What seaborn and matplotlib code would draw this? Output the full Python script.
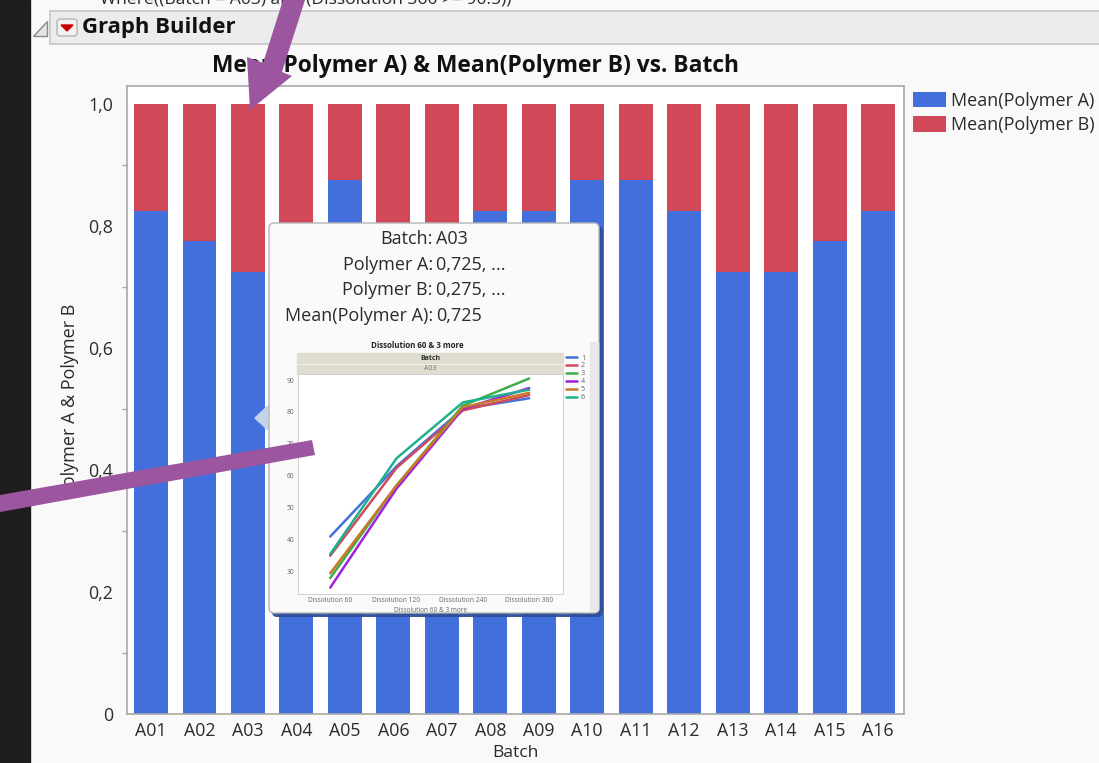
import matplotlib
matplotlib.use("Agg")
import matplotlib.pyplot as plt
import pandas as pd
import seaborn as sns
from matplotlib.patches import FancyBboxPatch, Polygon, Rectangle
from matplotlib.ticker import FixedLocator

batches = ["A01", "A02", "A03", "A04", "A05", "A06", "A07", "A08",
           "A09", "A10", "A11", "A12", "A13", "A14", "A15", "A16"]
polymer_a = [0.825, 0.775, 0.725, 0.775, 0.875, 0.775, 0.775, 0.825,
             0.825, 0.875, 0.875, 0.825, 0.725, 0.725, 0.775, 0.825]
polymer_b = [0.175, 0.225, 0.275, 0.225, 0.125, 0.225, 0.225, 0.175,
             0.175, 0.125, 0.125, 0.175, 0.275, 0.275, 0.225, 0.175]
y_ticks = [0, 0.2, 0.4, 0.6, 0.8, 1.0]
y_tick_labels = ["0", "0,2", "0,4", "0,6", "0,8", "1,0"]
y_minor = [0.1, 0.3, 0.5, 0.7, 0.9]

times = ["Dissolution 60", "Dissolution 120", "Dissolution 240", "Dissolution 360"]
run_1 = [41, 63, 81, 84.3]
run_2 = [35, 62.5, 80.5, 85.3]
run_3 = [28, 57, 82, 90.5]
run_4 = [25, 56, 81, 87.5]
run_5 = [29.5, 57, 81.5, 86]
run_6 = [35.5, 65.5, 83, 87]
run_colors = ["#4472dd", "#d04a5a", "#3fae49", "#a020e0", "#c87a28", "#20b090"]

W, H = 1099, 763
FONT = "Open Sans"
TXT = "#2b2b2b"
BLUE, RED = "#426fdb", "#d14959"
PURPLE = "#9c56a0"

sns.set_theme(style="white")
plt.rcParams["font.family"] = [FONT, "DejaVu Sans"]

fig = plt.figure(figsize=(W / 100, H / 100), dpi=100, facecolor="#f9f9f9")


def px_axes(l, t, r, b, **kw):
    return fig.add_axes([l / W, 1 - b / H, (r - l) / W, (b - t) / H], **kw)


def overlay(z):
    a = px_axes(0, 0, W, H, zorder=z)
    a.set_xlim(0, W)
    a.set_ylim(H, 0)
    a.axis("off")
    a.patch.set_alpha(0)
    return a


# window chrome
bg = overlay(0)
bg.add_patch(Rectangle((0, 0), 30, H, color="#1e1e1e"))
bg.add_patch(Rectangle((50, 10.5), 1060, 33.5, fc="#ececec", ec="#c6c6c6", lw=1.2))
bg.add_patch(Polygon([(33, 36), (47, 36), (47, 21)], closed=True, fc="#e4e4e4", ec="#8a8a8a", lw=1))
bg.add_patch(FancyBboxPatch((57, 19), 20, 17, boxstyle="round,pad=0,rounding_size=3",
                            fc="#f2f2f2", ec="#b5b5b5", lw=1))
bg.add_patch(Polygon([(61, 25), (73, 25), (67, 31)], closed=True, color="#cc0000"))
bg.text(82, 27.5, "Graph Builder", fontsize=15.9, fontweight="bold", color="#111111", va="center")
bg.text(100, -1, "Where((Batch = A03) and (Dissolution 360 >= 90.5))", fontsize=12.6,
        color=TXT, va="center", clip_on=True)
bg.text(476, 66, "Mean(Polymer A) & Mean(Polymer B) vs. Batch", fontsize=16.4,
        fontweight="bold", color="#111111", ha="center", va="center")

# main chart
df = pd.DataFrame({"Batch": batches, "A": polymer_a, "B": polymer_b})
ax = px_axes(127, 86, 904, 714, zorder=1)
ax.set_facecolor("white")
sns.barplot(data=df, x="Batch", y="A", color=BLUE, saturation=1, width=0.7,
            label="Mean(Polymer A)", linewidth=0, ax=ax)
sns.barplot(data=df, x="Batch", y="B", color=RED, saturation=1, width=0.7,
            bottom=polymer_a, label="Mean(Polymer B)", linewidth=0, ax=ax)
ax.set_xlim(-0.495, 15.535)
ax.set_ylim(0, 1.0295)
ax.set_yticks(y_ticks)
ax.set_yticklabels(y_tick_labels)
ax.yaxis.set_minor_locator(FixedLocator(y_minor))
ax.tick_params(axis="both", which="major", length=7, width=1, color="#a8a8a8",
               labelsize=12.8, labelcolor=TXT, pad=3)
ax.tick_params(axis="x", which="major", length=4, pad=2)
ax.tick_params(axis="y", which="minor", left=True, length=3.5, width=1, color="#a8a8a8")
ax.set_xlabel("Batch", fontsize=12.6, color=TXT, labelpad=3.5)
ax.set_ylabel("Polymer A & Polymer B", fontsize=13, color=TXT, labelpad=6.5)
for s in ax.spines.values():
    s.set_color("#a8a8a8")
    s.set_linewidth(1.2)
ax.legend(loc="upper left", bbox_to_anchor=(909 / W, 1 - 88 / H), bbox_transform=fig.transFigure,
          frameon=False, fontsize=13, handlelength=1.85, handleheight=0.95, handletextpad=0.25,
          labelspacing=0.36, borderpad=0.2, borderaxespad=0, labelcolor=TXT)

# tooltip
tip = overlay(2)
tip.add_patch(Polygon([(255, 418), (268, 406), (268, 430)], closed=True, color="#c4d2ea"))
tip.add_patch(FancyBboxPatch((272, 226), 331, 391, boxstyle="round,pad=0,rounding_size=5",
                             fc="#2e4f9c", ec="none", alpha=0.95))
tip.add_patch(FancyBboxPatch((269, 223), 330, 390, boxstyle="round,pad=0,rounding_size=5",
                             fc="#fafafa", ec="#b4b4b4", lw=1))
tip.add_patch(Rectangle((590, 342), 8, 268, color="#e8e8e8"))
keys = ["Batch:", "Polymer A:", "Polymer B:", "Mean(Polymer A):"]
vals = ["A03", "0,725, ...", "0,275, ...", "0,725"]
rows = [239, 265, 290, 316]
for k, v, y in zip(keys, vals, rows):
    tip.text(433, y, k, ha="right", va="center", fontsize=13, color=TXT)
    tip.text(436, y, v, ha="left", va="center", fontsize=13, color=TXT)
tip.add_patch(Rectangle((297, 353), 266, 21, color="#deddcf"))
tip.plot([297, 563], [363.5, 363.5], color="#f4f4ea", lw=0.6)
tip.text(417, 346, "Dissolution 60 & 3 more", fontsize=5.7, fontweight="bold", color="#222222",
         ha="center", va="center")
tip.text(430, 358.5, "Batch", fontsize=5, fontweight="bold", color="#333333", ha="center", va="center")
tip.text(430, 368.5, "A03", fontsize=5, color="#777777", ha="center", va="center")

# inset line chart
rows_df = []
for i, series in enumerate([run_1, run_2, run_3, run_4, run_5, run_6]):
    for t, v in zip(times, series):
        rows_df.append({"time": t, "value": v, "run": str(i + 1)})
long = pd.DataFrame(rows_df)
ins = px_axes(298, 374, 563, 594, zorder=3)
ins.set_facecolor("white")
sns.lineplot(data=long, x="time", y="value", hue="run", palette=run_colors, sort=False,
             linewidth=1.8, ax=ins)
ins.set_xlim(-0.486, 3.51)
ins.set_ylim(23, 91.9)
ins.set_yticks([30, 40, 50, 60, 70, 80, 90])
ins.tick_params(axis="both", length=2, width=0.5, color="#bdbdbd", labelsize=4.8,
                labelcolor="#666666", pad=0.5)
ins.set_xlabel("Dissolution 60 & 3 more", fontsize=4.7, color="#666666", labelpad=1.5)
ins.set_ylabel("")
for s in ins.spines.values():
    s.set_color("#c8c8c8")
    s.set_linewidth(0.6)
ins.legend(loc="upper left", bbox_to_anchor=(565.5 / W, 1 - 354.5 / H), bbox_transform=fig.transFigure,
           frameon=False, fontsize=5.2, handlelength=1.55, handletextpad=0.6, labelspacing=0.12,
           borderpad=0, borderaxespad=0, labelcolor="#666666")

# annotation arrows on top
top = overlay(4)
top.add_patch(Polygon([(283, 0), (305, 0), (282, 72), (292, 76), (250, 110), (247, 57), (263, 63)],
                      closed=True, color=PURPLE, lw=0))
top.add_patch(Polygon([(312, 440), (315, 455), (0, 512), (0, 495)], closed=True, color=PURPLE, lw=0))

fig.savefig("out.png", dpi=100, facecolor=fig.get_facecolor())
